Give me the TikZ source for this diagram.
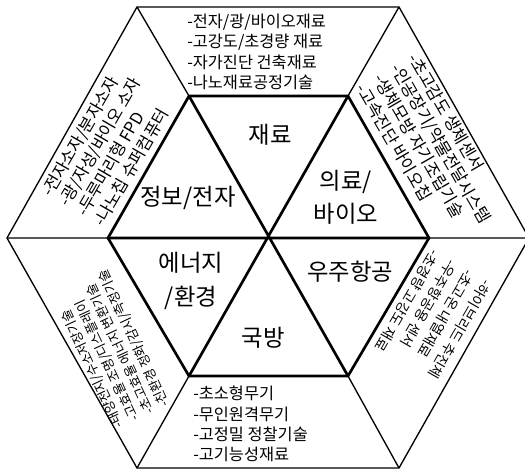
\documentclass[tikz,border=0pt]{standalone}
\usepackage{fontspec}
\setmainfont{Noto Sans CJK KR}
\begin{document}
\begin{tikzpicture}[x=0.75pt,y=-0.75pt,
  edge/.style={line width=1pt},
  core/.style={line width=2pt},
  lbl/.style={font=\fontsize{17.5}{25}\selectfont, align=center, inner sep=0pt},
  lst/.style={align=left, inner sep=0pt, anchor=west},
  lstbig/.style={lst, font=\fontsize{12.25}{15.2}\selectfont},
  lstrot/.style={lst, font=\fontsize{12.5}{15}\selectfont},
  lstsmall/.style={lst, font=\fontsize{9.75}{12.75}\selectfont},
  lstmid/.style={lst, font=\fontsize{10.5}{15}\selectfont}]
\useasboundingbox (0,0) rectangle (525,470);
\fill[white] (0,0) rectangle (525,470);
% geometry
\coordinate (C) at (268,238);
\coordinate (O1) at (137,7);
\coordinate (O2) at (399,7);
\coordinate (O3) at (529,238);
\coordinate (O4) at (399,468);
\coordinate (O5) at (137,468);
\coordinate (O6) at (7,238);
\coordinate (I1) at (189,96);
\coordinate (I2) at (348,96);
\coordinate (I3) at (429,238);
\coordinate (I4) at (348,376);
\coordinate (I5) at (189,376);
\coordinate (I6) at (108,238);
\draw[edge] (O1)--(O2)--(O3)--(O4)--(O5)--(O6)--cycle;
\draw[edge] (O1)--(I1) (O2)--(I2) (O3)--(I3) (O4)--(I4) (O5)--(I5) (O6)--(I6);
\draw[core] (I1)--(I2)--(I3)--(I4)--(I5)--(I6)--cycle;
\draw[core] (I1)--(I4) (I2)--(I5) (I3)--(I6);
% sector labels
\node[lbl] (mat) at (270,135) {재료};
\node[lbl] (info) at (188,198) {정보/전자};
\node[lbl] (bio) at (346,197) {의료/\\바이오};
\node[lbl] (ener) at (191,281) {에너지\\/환경};
\node[lbl] (aero) at (350,272) {우주항공};
\node[lbl] (def) at (263,338) {국방};
% lists
\node[lstbig] (lmat) at (187,52) {-전자/광/바이오재료\\-고강도/초경량 재료\\-자가진단 건축재료\\-나노재료공정기술};
\node[lstbig] (ldef) at (193,424) {-초소형무기\\-무인원격무기\\-고정밀 정찰기술\\-고기능성재료};
\node[lstrot, rotate=60] (linfo) at (72,210) {-전자소자/분자소자\\-광/자성/바이오 소자\\-두루마리형 FPD\\-나노칩 슈퍼컴퓨터};
\node[lstrot, rotate=-60] (lbio) at (387,70) {-초고감도 생체센서\\-인공장기/약물전달시스템\\-생체모방 자기조립기술\\-고속진단 바이오칩};
\node[lstsmall, rotate=115] (lener) at (143,417) {-태양전지/수소저장기술\\-고효율 조명/디스플레이\\-초고효율 에너지 변환기술\\-친환경 정화/감시/측정기술};
\node[lstmid, rotate=-120] (laero) at (462,266) {-하이브리드 추진체\\-초고온 내열재료\\-우주항공용 센서\\-초경량 고강도 재료};
\end{tikzpicture}
\end{document}
